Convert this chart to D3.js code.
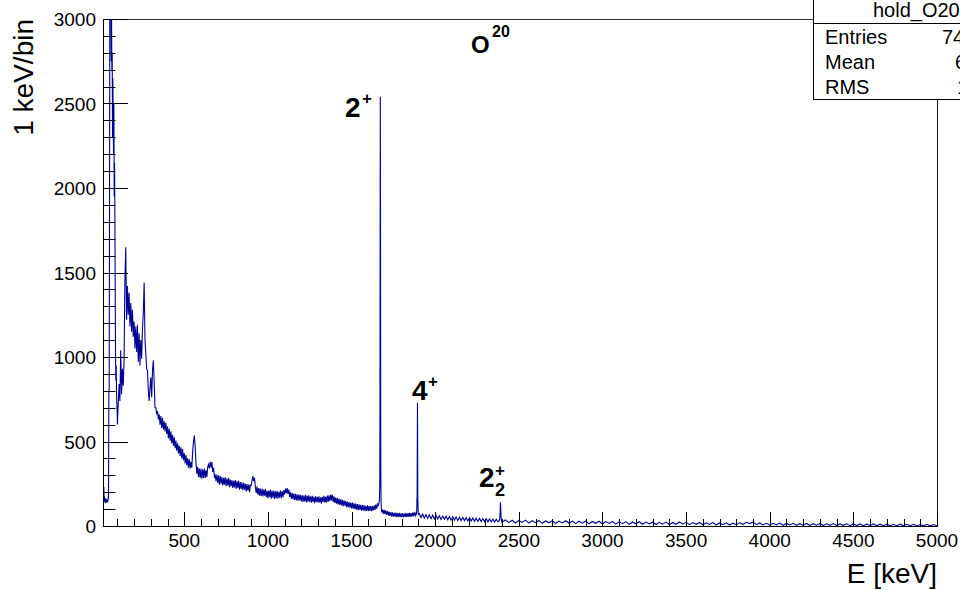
<!DOCTYPE html>
<html><head><meta charset="utf-8">
<script src="https://cdn.jsdelivr.net/npm/d3@7"></script>
<style>
body{margin:0;background:#fff;}
svg{display:block;}
text{font-family:"Liberation Sans",Arial,Helvetica,sans-serif;fill:#000;}
</style>
</head><body>
<svg id="chart" width="960" height="590"></svg>
<script>
// ---------- data ----------
const xDomain = [14, 5000];
const yDomain = [0, 3000];
const xTickLabels = [500, 1000, 1500, 2000, 2500, 3000, 3500, 4000, 4500, 5000];
const yTickLabels = [0, 500, 1000, 1500, 2000, 2500, 3000];
const xTitle = "E [keV]";
const yTitle = "1 keV/bin";
const statsTitle = "hold_O20";
const statsNames = ["Entries", "Mean", "RMS"];
const statsValues = ["7438312", "640.7", "1021"];

// low-energy spike: start 15 keV, step 2 keV
const lowStart = 15, lowStep = 2;
const lowCounts = [260,200,230,150,175,140,165,135,155,140,
  160,145,155,140,150,165,160,790,810,1900,
  3300,3600,3400,3100,2750,3050,2700,2800,2300,2650,
  2400,2200,2500,1950,2150,1850,1400,1000,860,950,
  780,720,660];

// continuum: start 100 keV, step 5 keV
const contStart = 100, contStep = 5;
const contCounts = [
  600,720,840,740,1040,780,930,830,980,1450,1650,1220,1420,1250,1380,1180,1320,1150,1280,1120,
  1210,1050,1180,1030,1190,970,1140,950,1100,990,1170,1260,1440,1100,1020,930,920,800,740,820,
  880,760,920,980,850,700,700,660,680,630,660,600,650,580,640,570,620,560,610,545,
  590,520,575,505,560,490,540,475,525,460,505,445,490,430,475,415,465,400,455,390,
  430,370,420,360,400,345,395,340,380,345,440,500,535,470,370,310,350,290,340,285,
  340,280,335,285,340,285,330,290,350,365,340,380,345,378,320,345,290,300,265,305,
  255,300,245,295,250,290,240,285,245,288,235,280,240,285,230,275,235,272,225,268,
  228,272,220,265,225,268,215,260,220,258,212,255,215,250,205,248,210,245,200,242,
  240,270,295,265,285,230,195,235,185,225,180,222,178,220,175,215,180,220,170,210,
  165,210,170,215,162,208,168,210,160,205,165,208,162,202,168,210,165,205,170,212,
  185,222,195,225,190,215,172,200,160,195,158,192,155,190,152,188,150,186,152,184,
  145,182,142,180,146,185,140,178,144,182,142,176,138,178,142,172,135,175,142,172,
  138,175,140,170,132,172,142,178,138,172,140,180,142,182,148,186,152,184,142,175,
  137,168,132,165,128,162,124,158,122,155,118,152,120,148,112,145,110,142,108,138,
  104,138,102,134,100,132,97,130,93,128,95,125,90,124,92,122,88,120,90,122,
  88,118,90,120,88,118,92,122,95,126,102,130,122,140];

// 2+ peak: start 1666 keV, step 1 keV
const peak2Start = 1666, peak2Step = 1;
const peak2Counts = [150,175,210,290,820,1860,2540,1870,830,300,190,130,100,90,85,80];

// between 2+ and 4+: start 1685 keV, step 5 keV
const midStart = 1685, midStep = 5;
const midCounts = [98,72,96,70,92,66,88,62,84,60,82,56,80,55,78,56,79,52,76,54,
  78,52,74,54,76,51,74,54,77,52,74,56,78,54,76,56,79,58,80,60,78];

// 4+ peak: start 1888 keV, step 1 keV
const peak4Start = 1888, peak4Step = 1;
const peak4Counts = [72,80,100,165,170,480,730,470,165,140,85,70,68];

// between 4+ and 2_2+: start 1905 keV, step 10 keV
const tailStart = 1905, tailStep = 10;
const tailCounts = [74,50,70,47,68,45,66,43,64,42,62,41,61,39,59,40,58,37,56,35,
  55,35,54,33,52,32,51,31,50,30,49,29,48,28,46,27,45,26,44,25,
  43,25,42,24,41,23,40,26];

// 2_2+ peak: start 2383 keV, step 1 keV
const peak22Start = 2383, peak22Step = 1;
const peak22Counts = [32,35,40,48,60,80,110,140,130,100,70,50,40,34,30,33,28];

// high-energy tail: start 2400 keV, step 20 keV
const highStart = 2400, highStep = 20;
const highCounts = [
  22,36,20,34,18,33,21,35,17,31,20,33,16,30,19,32,15,29,18,31,
  16,29,14,28,17,30,13,27,16,28,12,26,15,27,11,25,14,26,10,24,
  13,25,10,23,12,24,9,22,11,23,8,21,10,24,12,22,8,20,10,21,
  7,19,9,20,6,18,8,19,6,17,8,19,10,22,14,24,8,18,6,16,
  5,16,7,17,4,15,6,16,4,14,5,15,3,14,5,14,3,13,4,14,
  3,12,4,13,2,12,3,12,2,11,3,12,1,11,2,11,1,10,2,11,
  1,10,2,10,0,9,1,10,0,9,1];

// ---------- build ----------
function seg(start, step, arr){ return arr.map((c,i)=>[start+i*step, c]); }
const spectrum = [].concat(
  seg(lowStart, lowStep, lowCounts),
  seg(contStart, contStep, contCounts),
  seg(peak2Start, peak2Step, peak2Counts),
  seg(midStart, midStep, midCounts),
  seg(peak4Start, peak4Step, peak4Counts),
  seg(tailStart, tailStep, tailCounts),
  seg(peak22Start, peak22Step, peak22Counts),
  seg(highStart, highStep, highCounts)
).sort((a,b)=>a[0]-b[0]);

const svg = d3.select("#chart");
const L = 103, R = 937, T = 19, B = 526;
const x = d3.scaleLinear().domain(xDomain).range([L, R]);
const y = d3.scaleLinear().domain(yDomain).range([B, T]);

svg.append("defs").append("clipPath").attr("id","clip")
  .append("rect").attr("x",L).attr("y",T).attr("width",R-L).attr("height",B-T);

// frame (top/right)
svg.append("line").attr("x1",L).attr("x2",R).attr("y1",T+0.5).attr("y2",T+0.5).attr("stroke","#333");
svg.append("line").attr("x1",R+0.5).attr("x2",R+0.5).attr("y1",T).attr("y2",B).attr("stroke","#111");

// histogram
const line = d3.line().x(d=>x(d[0])).y(d=>y(d[1])).curve(d3.curveLinear);
svg.append("path").datum(spectrum)
  .attr("clip-path","url(#clip)")
  .attr("d", line)
  .attr("fill","none").attr("stroke","#000096").attr("stroke-width",1.1)
  .attr("stroke-linejoin","miter");

// x axis
const xMinor = d3.range(100, 5001, 100);
const xg = svg.append("g");
xg.selectAll("line.t").data(xMinor).enter().append("line")
  .attr("x1",d=>Math.round(x(d))+0.5).attr("x2",d=>Math.round(x(d))+0.5)
  .attr("y1",B).attr("y2",d=> d%500===0 ? B-14 : B-7)
  .attr("stroke","#000");
xg.append("line").attr("x1",L).attr("x2",R+1).attr("y1",B+0.5).attr("y2",B+0.5).attr("stroke","#000");
xg.selectAll("text").data(xTickLabels).enter().append("text")
  .attr("x",d=>x(d)).attr("y",547).attr("text-anchor","middle")
  .attr("font-size",19).text(d=>d);

// y axis
const yMinor = d3.range(0, 3001, 100);
const yg = svg.append("g");
yg.selectAll("line.t").data(yMinor).enter().append("line")
  .attr("y1",d=>Math.round(y(d))+0.5).attr("y2",d=>Math.round(y(d))+0.5)
  .attr("x1",L).attr("x2",d=> d%500===0 ? L+25 : L+12.5)
  .attr("stroke","#000");
yg.append("line").attr("x1",L+0.5).attr("x2",L+0.5).attr("y1",T).attr("y2",B+1).attr("stroke","#000");
yg.selectAll("text").data(yTickLabels).enter().append("text")
  .attr("x",96).attr("y",d=>y(d)+7).attr("text-anchor","end")
  .attr("font-size",19).text(d=>d);

// axis titles
svg.append("text").attr("x",937).attr("y",583).attr("text-anchor","end")
  .attr("font-size",28).text(xTitle);
svg.append("text").attr("transform","translate(33,19) rotate(-90)")
  .attr("text-anchor","end").attr("font-size",28).text(yTitle);

// stats box
const sb = svg.append("g");
sb.append("rect").attr("x",813.5).attr("y",-1).attr("width",200).attr("height",100.5)
  .attr("fill","#fff").attr("stroke","#000");
sb.append("line").attr("x1",813.5).attr("x2",1013).attr("y1",23.5).attr("y2",23.5).attr("stroke","#000");
sb.append("text").attr("x",873).attr("y",17).attr("font-size",20).text(statsTitle);
const rowY = [44, 69, 94];
const valX = [942, 955, 957];
statsNames.forEach((n,i)=>{
  sb.append("text").attr("x",825).attr("y",rowY[i]).attr("font-size",20).text(n);
  sb.append("text").attr("x",valX[i]).attr("y",rowY[i]).attr("font-size",20).text(statsValues[i]);
});

// peak labels
const lab = svg.append("g").attr("font-weight","bold");
lab.append("text").attr("x",471).attr("y",53).attr("font-size",24).attr("font-weight","bold").text("O");
lab.append("text").attr("x",492).attr("y",37).attr("font-size",16).attr("font-weight","bold").text("20");

lab.append("text").attr("x",345).attr("y",117).attr("font-size",28).attr("font-weight","bold").text("2");
lab.append("text").attr("x",362).attr("y",104).attr("font-size",17).attr("font-weight","bold").text("+");

lab.append("text").attr("x",412).attr("y",400).attr("font-size",28).attr("font-weight","bold").text("4");
lab.append("text").attr("x",428).attr("y",387).attr("font-size",17).attr("font-weight","bold").text("+");

lab.append("text").attr("x",479).attr("y",487).attr("font-size",28).attr("font-weight","bold").text("2");
lab.append("text").attr("x",495).attr("y",496).attr("font-size",18).attr("font-weight","bold").text("2");
lab.append("text").attr("x",495).attr("y",476).attr("font-size",17).attr("font-weight","bold").text("+");
</script>
</body></html>
